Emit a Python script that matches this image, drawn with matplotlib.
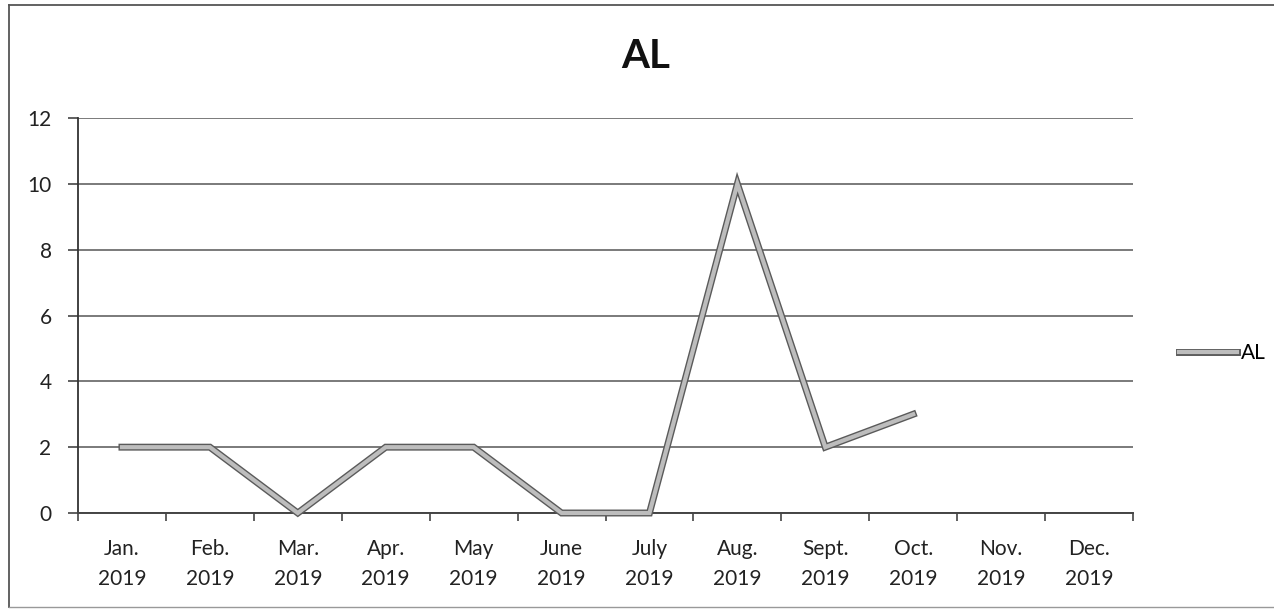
import matplotlib
matplotlib.use("Agg")
import matplotlib.pyplot as plt
import matplotlib.patheffects as pe
from matplotlib.lines import Line2D

plt.rcParams['font.family'] = ['Lato', 'DejaVu Sans']

months = ["Jan.\n2019", "Feb.\n2019", "Mar.\n2019", "Apr.\n2019", "May\n2019", "June\n2019",
          "July\n2019", "Aug.\n2019", "Sept.\n2019", "Oct.\n2019", "Nov.\n2019", "Dec.\n2019"]
al_values = [2, 2, 0, 2, 2, 0, 0, 10, 2, 3]
yticks = [0, 2, 4, 6, 8, 10, 12]

fig = plt.figure(figsize=(12.74, 6.12), dpi=100)
ax = fig.add_axes([78/1274, 1 - 513/612, (1133 - 78)/1274, (513 - 118)/612])

x = list(range(len(al_values)))
line_effects = [pe.Stroke(linewidth=5.0, foreground="#5a5a5a"), pe.Normal()]
ax.plot(x, al_values, color="#bdbdbd", linewidth=3.0, solid_joinstyle="miter",
        path_effects=line_effects, zorder=3, clip_on=False)

ax.set_xlim(-0.5, len(months) - 0.5)
ax.set_ylim(0, 12)
ax.set_yticks(yticks)
ax.set_yticklabels([str(v) for v in yticks])
ax.set_xticks(range(len(months)))
ax.set_xticklabels(months, linespacing=1.6)
ax.set_xticks([i - 0.5 for i in range(len(months) + 1)], minor=True)

ax.grid(axis="y", color="#7a7a7a", linewidth=1.4)
ax.set_axisbelow(True)
for s in ["top", "right"]:
    ax.spines[s].set_visible(False)
ax.spines["left"].set_color("#333333")
ax.spines["bottom"].set_color("#444444")
ax.spines["left"].set_linewidth(1.3)
ax.spines["bottom"].set_linewidth(1.4)

ax.tick_params(axis="x", which="major", length=0, pad=19, labelsize=15, colors="#222222")
ax.tick_params(axis="x", which="minor", length=6, width=1.2, color="#444444", direction="out")
ax.tick_params(axis="y", length=7, width=1.2, color="#444444", labelsize=15, pad=12, labelcolor="#222222")

fig.text(646/1274, 1 - 57/612, "AL", ha="center", va="center", fontsize=29, fontweight="bold", color="#111111")

# legend
handle = Line2D([0], [0], color="#bdbdbd", linewidth=3.0, path_effects=line_effects)
leg = fig.legend([handle], ["AL"], loc="center left", bbox_to_anchor=(1160/1274, 1 - 353/612),
                 frameon=False, fontsize=15, handlelength=2.8, handletextpad=0.2)

# outer chart border (left, top, bottom)
fig.add_artist(Line2D([9/1274, 9/1274], [1 - 607/612, 1 - 5/612], transform=fig.transFigure,
                      color="#555555", linewidth=1.3))
fig.add_artist(Line2D([9/1274, 1.0], [1 - 5/612, 1 - 5/612], transform=fig.transFigure,
                      color="#555555", linewidth=1.3))
fig.add_artist(Line2D([9/1274, 1.0], [1 - 607/612, 1 - 607/612], transform=fig.transFigure,
                      color="#999999", linewidth=1.0))

fig.savefig("out.png", dpi=100)
